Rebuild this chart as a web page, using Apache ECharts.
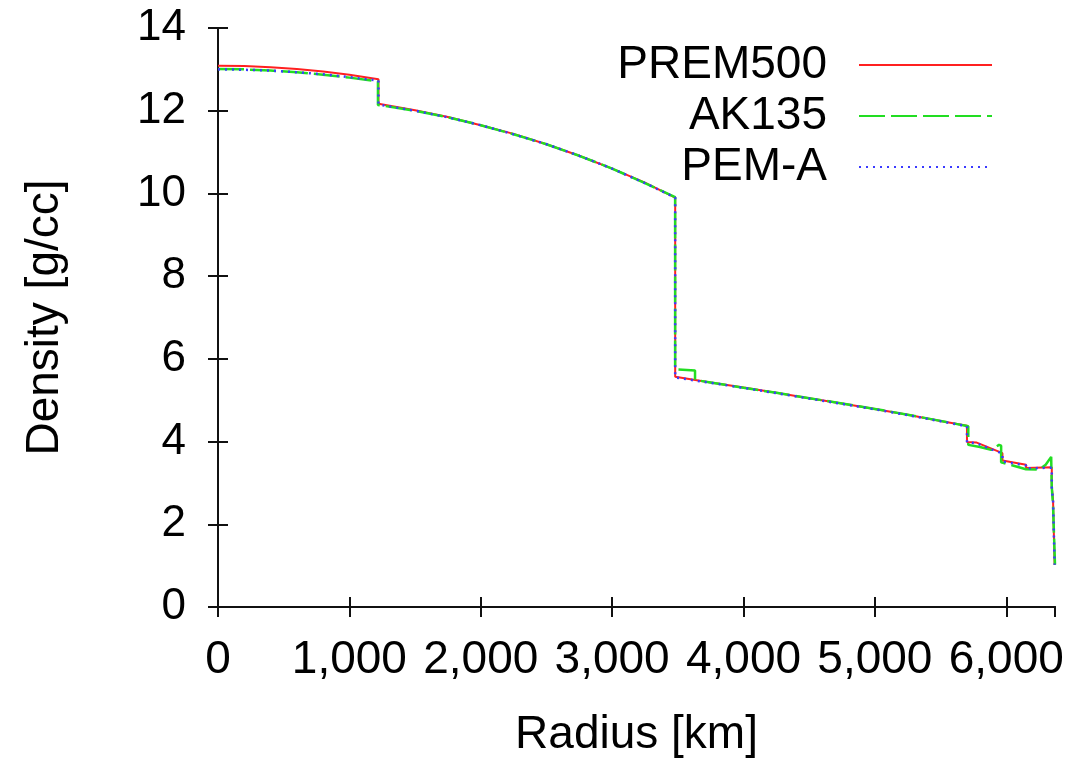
<!DOCTYPE html>
<html>
<head>
<meta charset="utf-8">
<script src="https://cdn.jsdelivr.net/npm/echarts@6/dist/echarts.min.js"></script>
<style>
html,body{margin:0;padding:0;background:#fff;}
#chart{width:1076px;height:766px;}
</style>
</head>
<body>
<div id="chart"></div>
<script>
// Radius [km] / Density [g/cc]
const prem500R = [0, 200, 400, 600, 800, 1000, 1221.5, 1221.5, 1500, 1750, 2000, 2250, 2500, 2750, 3000, 3250, 3480,
  3480, 3750, 4000, 4250, 4500, 4750, 5000, 5250, 5500, 5701, 5701, 5771, 5971, 5971, 6151, 6151, 6346.6, 6346.6, 6356, 6356, 6368, 6368, 6371];
const prem500Rho = [13.09, 13.08, 13.05, 13.01, 12.95, 12.87, 12.76, 12.17, 12.01, 11.85, 11.65, 11.44, 11.19, 10.91, 10.60, 10.26, 9.90,
  5.57, 5.43, 5.31, 5.18, 5.05, 4.92, 4.79, 4.65, 4.50, 4.38, 3.99, 3.98, 3.72, 3.54, 3.44, 3.36, 3.38, 2.90, 2.90, 2.60, 2.60, 1.02, 1.02];

const ak135R = [0, 200, 400, 600, 800, 1000, 1217.5, 1217.5, 1500, 1750, 2000, 2250, 2500, 2750, 3000, 3250, 3479.5,
  3479.5, 3631, 3631, 3750, 4000, 4250, 4500, 4750, 5000, 5250, 5500, 5711, 5711, 5800, 5885, 5945, 5961, 5961, 6050, 6150, 6250, 6300, 6342, 6346, 6356, 6356, 6371];
const ak135Rho = [13.01, 13.00, 12.97, 12.93, 12.87, 12.80, 12.71, 12.14, 12.00, 11.84, 11.65, 11.43, 11.19, 10.91, 10.60, 10.25, 9.91,
  5.75, 5.72, 5.49, 5.43, 5.30, 5.18, 5.05, 4.92, 4.79, 4.65, 4.50, 4.37, 3.92, 3.87, 3.80, 3.92, 3.90, 3.50, 3.42, 3.33, 3.32, 3.44, 3.63, 2.92, 2.92, 2.45, 1.02];

const pemaR = [0, 200, 400, 600, 800, 1000, 1221.5, 1221.5, 1500, 1750, 2000, 2250, 2500, 2750, 3000, 3250, 3480,
  3480, 3750, 4000, 4250, 4500, 4750, 5000, 5250, 5500, 5701, 5701, 5771, 5971, 5971, 6151, 6151, 6346.6, 6346.6, 6356, 6356, 6368, 6368, 6371];
const pemaRho = [13.00, 12.99, 12.97, 12.93, 12.88, 12.81, 12.73, 12.15, 12.00, 11.84, 11.65, 11.43, 11.19, 10.91, 10.60, 10.25, 9.90,
  5.55, 5.42, 5.30, 5.17, 5.04, 4.91, 4.78, 4.64, 4.49, 4.37, 3.98, 3.96, 3.71, 3.52, 3.42, 3.35, 3.37, 2.88, 2.88, 2.58, 2.58, 1.02, 1.02];

const seriesNames = ['PREM500', 'AK135', 'PEM-A'];
const xTicks = [0, 1000, 2000, 3000, 4000, 5000, 6000];
const yTicks = [0, 2, 4, 6, 8, 10, 12, 14];

function pairs(r, v) { return r.map((x, i) => [x, v[i]]); }

const FONT = '"Liberation Sans", Arial, Helvetica, sans-serif';
const chart = echarts.init(document.getElementById('chart'), null, {renderer: 'canvas'});

const axisLine = {show: true, lineStyle: {color: '#111', width: 2}};
const tick = {show: true, inside: true, length: 10, lineStyle: {color: '#111', width: 2}};

chart.setOption({
  animation: false,
  backgroundColor: '#fff',
  grid: {left: 218, right: 21, top: 28, bottom: 159, containLabel: false},
  legend: {
    data: seriesNames,
    orient: 'vertical',
    align: 'right',
    right: 83,
    top: 42,
    padding: 0,
    itemWidth: 133,
    itemHeight: 14,
    itemGap: 5,
    itemStyle: {opacity: 0},
    textStyle: {fontFamily: FONT, fontSize: 46, color: '#000', lineHeight: 46, padding: [0, 27, 0, 0]}
  },
  xAxis: [{
    type: 'value', min: 0, max: 6371, interval: 1000, position: 'bottom',
    name: 'Radius [km]', nameLocation: 'middle', nameGap: 105,
    nameTextStyle: {fontFamily: FONT, fontSize: 46, color: '#000'},
    axisLine: axisLine, axisTick: tick, splitLine: {show: false},
    axisLabel: {
      fontFamily: FONT, fontSize: 46, color: '#000', margin: 30, showMaxLabel: false,
      formatter: v => xTicks.includes(v) ? v.toLocaleString('en-US') : ''
    }
  }, {
    type: 'value', min: 0, max: 6371, interval: 1000, position: 'top',
    axisLine: axisLine, axisTick: tick, axisLabel: {show: false}, splitLine: {show: false}
  }],
  yAxis: [{
    type: 'value', min: 0, max: 14, interval: 2, position: 'left',
    name: 'Density [g/cc]', nameLocation: 'middle', nameGap: 150, nameRotate: 90,
    nameTextStyle: {fontFamily: FONT, fontSize: 46, color: '#000'},
    axisLine: axisLine, axisTick: tick, splitLine: {show: false},
    axisLabel: {
      fontFamily: FONT, fontSize: 44, color: '#000', margin: 32,
      formatter: v => yTicks.includes(v) ? String(v) : ''
    }
  }, {
    type: 'value', min: 0, max: 14, interval: 2, position: 'right',
    axisLine: axisLine, axisTick: tick, axisLabel: {show: false}, splitLine: {show: false}
  }],
  series: [
    {name: seriesNames[0], type: 'line', data: pairs(prem500R, prem500Rho), symbol: 'none', color: '#ff2020',
      lineStyle: {color: '#ff2020', width: 2, type: 'solid'}, z: 2},
    {name: seriesNames[1], type: 'line', data: pairs(ak135R, ak135Rho), symbol: 'none', color: '#22dd22',
      lineStyle: {color: '#22dd22', width: 2.5, type: [26, 6]}, z: 3},
    {name: seriesNames[2], type: 'line', data: pairs(pemaR, pemaRho), symbol: 'none', color: '#3a3aff',
      lineStyle: {color: '#3a3aff', width: 2.5, type: [2, 5]}, z: 4}
  ]
});
</script>
</body>
</html>
